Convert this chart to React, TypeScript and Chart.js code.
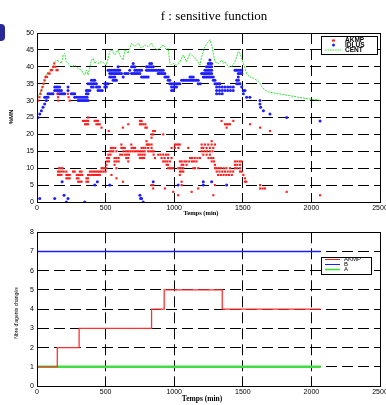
import React, { useEffect, useRef } from "react";
import { Chart, registerables } from "chart.js";
Chart.register(...registerables);

const titleText = "f : sensitive function";
const xAxisLabel = "Temps (min)";
const topYLabel = "%MN";
const bottomYLabel = "Nbre d'agents changés";
const topLegendLabels = ["AKMP", "IDLUS", "CENT"];
const bottomLegendLabels = ["AKMP", "B", "A"];

const xMin = 0, xMax = 2500, xStep = 500;
const topYMin = 0, topYMax = 50, topYStep = 5;
const botYMin = 0, botYMax = 8, botYStep = 1;

const akmpPoints: [number, number][] = [
  [10,30],[18,31],[25,32],[32,33],[40,34],[48,35],[55,36],[62,37],[72,37],[82,38],[92,38],[100,39],[110,39],[118,40],[126,41],[134,40],[142,39],[150,39],
  [150,32],[153,31],[155,30],[225,32],[230,31],[238,30],
  [372,25],
  [335,24],[348,24],[360,24],[372,24],[420,24],[432,24],[445,24],[750,24],[762,24],[1345,24],[1431,24],
  [350,23],[362,23],[372,23],[433,23],[445,23],[457,23],[665,23],[750,23],[762,23],[775,23],[790,23],[1370,23],[1382,23],[1394,23],[1406,23],[1553,23],
  [470,22],[626,22],[790,22],[800,22],[1382,22],[1626,22],
  [523,21],[847,21],[859,21],[1698,21],
  [835,20],[847,20],[920,20],
  [835,19],
  [798,18],[1273,18],
  [615,17],[687,17],[800,17],[810,17],[820,17],[835,17],[1005,17],[1017,17],[1030,17],[1041,17],[1200,17],[1224,17],[1248,17],[1273,17],[1297,17],
  [540,16],[555,16],[570,16],[615,16],[628,16],[640,16],[690,16],[702,16],[715,16],[762,16],[775,16],[790,16],[810,16],[835,16],[981,16],[1005,16],[1030,16],[1102,16],[1200,16],[1212,16],[1236,16],[1260,16],[1285,16],
  [530,15],[543,15],[556,15],[579,15],[630,15],[650,15],[665,15],[680,15],[695,15],[710,15],[725,15],[740,15],[755,15],[770,15],[785,15],[810,15],[825,15],[840,15],[850,15],[1200,15],[1220,15],[1240,15],[1260,15],[1280,15],
  [520,14],[535,14],[606,14],[620,14],[640,14],[655,14],[670,14],[740,14],[755,14],[770,14],[785,14],[850,14],[883,14],[900,14],[920,14],[940,14],[956,14],[1212,14],[1236,14],[1260,14],
  [510,13],[525,13],[565,13],[580,13],[595,13],[650,13],[665,13],[750,13],[765,13],[780,13],[860,13],[908,13],[930,13],[955,13],[981,13],[1115,13],[1130,13],[1150,13],[1170,13],[1188,13],[1250,13],[1270,13],[1285,13],
  [510,12],[525,12],[565,12],[580,12],[595,12],[665,12],[920,12],[935,12],[950,12],[968,12],[1041,12],[1055,12],[1075,12],[1090,12],[1110,12],[1130,12],[1145,12],[1163,12],[1273,12],[1290,12],[1443,12],[1460,12],[1478,12],[1492,12],
  [505,11],[565,11],[945,11],[955,11],[1054,11],[1066,11],[1090,11],[1297,11],[1443,11],[1460,11],[1480,11],
  [160,10],[172,10],[185,10],[470,10],[480,10],[495,10],[506,10],[579,10],[956,10],[968,10],[980,10],[993,10],[1030,10],[1042,10],[1054,10],[1066,10],[1140,10],[1152,10],[1175,10],[1297,10],[1310,10],[1325,10],[1340,10],[1360,10],[1380,10],[1406,10],[1443,10],[1460,10],[1480,10],
  [153,9],[165,9],[180,9],[195,9],[214,9],[263,9],[275,9],[312,9],[325,9],[385,9],[400,9],[415,9],[430,9],[445,9],[458,9],[470,9],[485,9],[500,9],[1042,9],[1054,9],[1066,9],[1310,9],[1330,9],[1350,9],[1370,9],[1390,9],[1410,9],[1430,9],[1480,9],[1492,9],
  [153,8],[165,8],[178,8],[214,8],[226,8],[238,8],[290,8],[302,8],[315,8],[330,8],[372,8],[385,8],[400,8],[415,8],[430,8],[445,8],[458,8],[543,8],[1041,8],[1320,8],[1340,8],[1360,8],[1380,8],[1400,8],[1420,8],[1504,8],
  [214,7],[226,7],[238,7],[290,7],[302,7],[360,7],[372,7],[579,7],[1516,7],
  [300,6],[312,6],[325,6],[360,6],[372,6],[626,6],[1054,6],[1516,6],[1525,6],
  [835,5],[847,5],[1054,5],[1297,5],[1626,5],
  [847,4],[932,4],[1175,4],[1626,4],[1645,4],[1662,4],
  [993,3],[1127,3],[1820,3],
  [1029,2],[1285,2],[2063,2],
];

const idlusPoints: [number, number][] = [
  [20,1],[129,1],[197,2],[214,0],[226,1],[183,6],[348,0],[421,5],[440,6],[530,5],[750,2],[755,1],[762,1],[774,0],[847,6],[1029,5],[1212,5],[1212,6],[1273,6],[1382,5],
  [7,25],[20,26],[32,27],[44,28],[56,29],[68,30],
  [1625,30],[1625,29],[1630,28],[1650,27],[1698,26],[1820,25],[2063,24],[1528,31],[1552,31],
  [300,30],[312,30],[325,30],[337,30],[348,30],[360,30],[372,30],
  [56,31],[68,31],[80,31],[275,31],[290,31],[305,31],[320,31],[335,31],[350,31],[365,31],
  [80,32],[92,32],[105,32],[117,32],[153,32],[165,32],[178,32],[190,32],[202,32],[250,32],[262,32],[275,32],[360,32],[372,32],[1309,32],[1330,32],[1350,32],[1504,32],
  [129,33],[141,33],[153,33],[165,33],[178,33],[226,33],[360,33],[372,33],[385,33],[445,33],[460,33],[475,33],[981,33],[993,33],[1309,33],[1330,33],[1350,33],[1370,33],[1390,33],[1410,33],[1430,33],[1504,33],[1516,33],
  [129,34],[141,34],[153,34],[165,34],[226,34],[397,34],[410,34],[433,34],[445,34],[457,34],[494,34],[506,34],[981,34],[993,34],[1005,34],[1017,34],[1309,34],[1330,34],[1350,34],[1370,34],[1390,34],[1410,34],[1431,34],[1492,34],
  [372,35],[385,35],[397,35],[410,35],[421,35],[433,35],[494,35],[506,35],[518,35],[968,35],[980,35],[993,35],[1005,35],[1017,35],[1029,35],[1041,35],[1175,35],[1190,35],[1297,35],[1310,35],[1322,35],[1333,35],[1455,35],[1468,35],[1480,35],
  [397,36],[410,36],[421,36],[555,36],[567,36],[579,36],[956,36],[968,36],[1054,36],[1066,36],[1078,36],[1090,36],[1102,36],[1115,36],[1127,36],[1139,36],[1151,36],[1163,36],[1175,36],[1285,36],[1297,36],[1455,36],[1468,36],
  [530,37],[542,37],[555,37],[567,37],[628,37],[762,37],[774,37],[786,37],[798,37],[810,37],[932,37],[944,37],[956,37],[1115,37],[1127,37],[1139,37],[1212,37],[1224,37],[1236,37],[1248,37],[1260,37],[1273,37],[1285,37],[1467,37],
  [530,38],[542,38],[555,38],[567,38],[579,38],[591,38],[603,38],[616,38],[640,38],[652,38],[664,38],[689,38],[701,38],[713,38],[725,38],[737,38],[750,38],[883,38],[895,38],[908,38],[920,38],[932,38],[1200,38],[1212,38],[1224,38],[1236,38],[1248,38],[1260,38],[1273,38],[1467,38],[1480,38],[1492,38],
  [518,39],[530,39],[542,39],[555,39],[567,39],[579,39],[591,39],[603,39],[676,39],[713,39],[725,39],[737,39],[750,39],[762,39],[798,39],[810,39],[822,39],[835,39],[847,39],[860,39],[872,39],[884,39],[896,39],[908,39],[920,39],[1224,39],[1236,39],[1248,39],[1260,39],[1273,39],[1443,39],[1455,39],[1467,39],[1480,39],[1492,39],
  [591,40],[689,40],[701,40],[713,40],[798,40],[810,40],[822,40],[835,40],[847,40],[1236,40],[1248,40],[1260,40],[1273,40],
  [701,41],[822,41],[835,41],[1248,41],[1260,41],[1273,41],
  [1260,42],
];

const centPoints: [number, number][] = [
  [3,30.7],[32,33.1],[56,35.6],[68,38],[93,38.6],[117,39.5],[129,41.5],[141,42],[166,41.5],[178,41],[190,43.5],[202,44],[214,41.5],[226,41],[251,40],[275,40.5],[300,39.5],[324,39],[336,38],[348,37.6],[360,39],[372,37.6],[385,40],[397,42],[409,42.5],[421,41],[433,41.5],[445,41],[470,41.5],[494,41],[506,40.5],[530,44.5],[543,45],[567,43.5],[591,45],[603,43.5],[628,42],[640,45],[664,44],[689,47],[713,46],[737,47],[762,45.5],[786,46.5],[810,46],[835,47],[847,46],[871,45],[896,45.5],[920,46.5],[944,45],[956,45.5],[969,41],[981,40.5],[993,41],[1017,40.5],[1042,41.5],[1066,43.5],[1090,41.5],[1115,44],[1139,43],[1163,42],[1188,40.5],[1200,43],[1224,46],[1248,47.4],[1261,48],[1273,46.5],[1285,44],[1297,41.5],[1321,41],[1346,42],[1358,41],[1370,41.5],[1394,40],[1419,40],[1443,41.5],[1455,43],[1467,44.5],[1480,44],[1492,42.5],[1504,41],[1516,39.5],[1528,38],[1553,37],[1577,36.6],[1601,36.1],[1625,35.1],[1638,34.1],[1662,33.1],[1686,32.6],[1735,32.2],[1808,31.7],[1905,31],[1978,30.5],[2051,30.2],[2063,30],
];

const akmpAgents: [number, number][] = [[0,1],[148,2],[307,3],[835,4],[927,5],[1350,4],[2068,4]];
const bAgents: [number, number][] = [[0,7],[2068,7]];
const aAgents: [number, number][] = [[0,1],[2068,1]];

const RED = "#ff1e1e";
const BLUE = "#1e1eff";
const GREEN = "#33e033";
const TICK_FONT = { family: "Liberation Sans", size: 7 };

const toXY = (pts: [number, number][]) => pts.map(([x, y]) => ({ x, y }));

function makeScales(yMin: number, yMax: number, yStep: number, yWidth: number, xHeight: number) {
  const common = {
    grid: { color: "#000", lineWidth: 1, drawTicks: false },
    border: { display: true, color: "#000", width: 1, dash: [11, 5] },
  };
  return {
    x: {
      type: "linear",
      min: xMin, max: xMax,
      ...common,
      ticks: { stepSize: xStep, color: "#000", font: TICK_FONT, padding: 2, maxRotation: 0, callback: (v: any) => String(v) },
      afterFit: (s: any) => { s.height = xHeight; s.paddingLeft = 0; s.paddingRight = 0; },
    },
    y: {
      type: "linear",
      min: yMin, max: yMax,
      ...common,
      ticks: { stepSize: yStep, color: "#000", font: TICK_FONT, padding: 3, callback: (v: any) => String(v) },
      afterFit: (s: any) => { s.width = yWidth; s.paddingTop = 0; s.paddingBottom = 0; },
    },
  };
}

const framePlugin = {
  id: "frame",
  afterDraw(chart: any) {
    const { ctx, chartArea: a } = chart;
    ctx.save();
    ctx.strokeStyle = "#000";
    ctx.lineWidth = 1;
    ctx.setLineDash([]);
    ctx.strokeRect(Math.round(a.left) + 0.5, Math.round(a.top) + 0.5, Math.round(a.right - a.left), Math.round(a.bottom - a.top));
    ctx.restore();
  },
};

function TopChart() {
  const ref = useRef<HTMLCanvasElement>(null);
  useEffect(() => {
    const textPlugin = {
      id: "topText",
      afterDraw(chart: any) {
        const ctx = chart.ctx;
        ctx.save();
        ctx.fillStyle = "#000";
        ctx.font = "13px 'Liberation Serif'";
        ctx.textAlign = "center";
        ctx.textBaseline = "middle";
        ctx.fillText(titleText, 214, 17);
        ctx.font = "bold 6.5px 'Liberation Serif'";
        ctx.fillText(xAxisLabel, 201, 213);
        ctx.save();
        ctx.translate(11, 117);
        ctx.rotate(-Math.PI / 2);
        ctx.font = "bold 6px 'Liberation Sans'";
        ctx.fillText(topYLabel, 0, 0);
        ctx.restore();
        // legend
        ctx.fillStyle = "#fff";
        ctx.fillRect(321.5, 36.5, 56, 18);
        ctx.strokeStyle = "#000";
        ctx.lineWidth = 1;
        ctx.strokeRect(321.5, 36.5, 56, 18);
        ctx.fillStyle = RED;
        ctx.fillRect(332, 39.5, 3, 2);
        ctx.fillStyle = BLUE;
        ctx.beginPath();
        ctx.arc(333.5, 45, 1.5, 0, Math.PI * 2);
        ctx.fill();
        ctx.strokeStyle = GREEN;
        ctx.setLineDash([1.5, 1]);
        ctx.beginPath();
        ctx.moveTo(325, 50);
        ctx.lineTo(341, 50);
        ctx.stroke();
        ctx.setLineDash([]);
        ctx.fillStyle = "#000";
        ctx.font = "bold 6.5px 'Liberation Sans'";
        ctx.textAlign = "left";
        ctx.fillText(topLegendLabels[0], 345, 40.5);
        ctx.fillText(topLegendLabels[1], 345, 45.5);
        ctx.fillText(topLegendLabels[2], 345, 50.5);
        ctx.restore();
      },
    };
    const chart = new Chart(ref.current!, {
      type: "scatter",
      data: {
        datasets: [
          {
            label: "CENT", type: "line", data: toXY(centPoints), borderColor: GREEN, borderWidth: 1,
            borderDash: [2, 1], pointRadius: 0, fill: false, tension: 0, order: 3,
          },
          {
            label: "IDLUS", data: toXY(idlusPoints), backgroundColor: BLUE, borderWidth: 0,
            pointStyle: "circle", pointRadius: 1.5, order: 2,
          },
          {
            label: "AKMP", data: toXY(akmpPoints), backgroundColor: RED, borderWidth: 0,
            pointStyle: "rect", pointRadius: 1.5, order: 1,
          },
        ],
      } as any,
      options: {
        responsive: false,
        animation: false,
        layout: { padding: { top: 33, right: 6, left: 0, bottom: 0 } },
        scales: makeScales(topYMin, topYMax, topYStep, 37, 16) as any,
        plugins: { legend: { display: false }, tooltip: { enabled: false }, title: { display: false } },
      },
      plugins: [framePlugin, textPlugin],
    });
    return () => chart.destroy();
  }, []);
  return <canvas ref={ref} width={386} height={218} style={{ position: "absolute", left: 0, top: 0, width: 386, height: 218 }} />;
}

function BottomChart() {
  const ref = useRef<HTMLCanvasElement>(null);
  useEffect(() => {
    const textPlugin = {
      id: "botText",
      afterDraw(chart: any) {
        const ctx = chart.ctx;
        ctx.save();
        ctx.fillStyle = "#000";
        ctx.textAlign = "center";
        ctx.textBaseline = "middle";
        ctx.font = "bold 7.5px 'Liberation Serif'";
        ctx.fillText(xAxisLabel, 202, 181);
        ctx.save();
        ctx.translate(17, 95);
        ctx.rotate(-Math.PI / 2);
        ctx.font = "5px 'Liberation Sans'";
        ctx.fillText(bottomYLabel, 0, 0);
        ctx.restore();
        // legend
        const top = 39.5;
        ctx.fillStyle = "#fff";
        ctx.fillRect(321.5, top, 50, 17);
        ctx.strokeStyle = "#000";
        ctx.lineWidth = 1;
        ctx.strokeRect(321.5, top, 50, 17);
        const cols = [RED, BLUE, GREEN];
        const rows = [41.5, 46.5, 51.5];
        ctx.font = "6px 'Liberation Sans'";
        ctx.textAlign = "left";
        for (let i = 0; i < 3; i++) {
          ctx.strokeStyle = cols[i];
          ctx.lineWidth = i === 2 ? 1.5 : 1;
          ctx.beginPath();
          ctx.moveTo(325, rows[i]);
          ctx.lineTo(340, rows[i]);
          ctx.stroke();
          ctx.fillStyle = "#000";
          ctx.fillText(bottomLegendLabels[i], 344, rows[i]);
        }
        ctx.restore();
      },
    };
    const chart = new Chart(ref.current!, {
      type: "line",
      data: {
        datasets: [
          { label: "A", data: toXY(aAgents), borderColor: "#44dd44", borderWidth: 2.5, pointRadius: 0, order: 3 },
          { label: "B", data: toXY(bAgents), borderColor: BLUE, borderWidth: 1.3, pointRadius: 0, order: 2 },
          { label: "AKMP", data: toXY(akmpAgents), borderColor: "#ff3030", borderWidth: 1.3, pointRadius: 0, stepped: "before", order: 1 },
        ],
      } as any,
      options: {
        responsive: false,
        animation: false,
        layout: { padding: { top: 14.3, right: 6, left: 0, bottom: 0 } },
        scales: makeScales(botYMin, botYMax, botYStep, 37, 19) as any,
        plugins: { legend: { display: false }, tooltip: { enabled: false }, title: { display: false } },
      },
      plugins: [framePlugin, textPlugin],
    });
    return () => chart.destroy();
  }, []);
  return <canvas ref={ref} width={386} height={187} style={{ position: "absolute", left: 0, top: 218, width: 386, height: 187 }} />;
}

export default function App() {
  return (
    <div style={{ position: "absolute", left: 0, top: 0, width: 386, height: 405, background: "#fff", overflow: "hidden" }}>
      <div style={{ position: "absolute", left: 0, top: 24, width: 5, height: 17, background: "#2a2a96", borderRadius: "0 4px 4px 0" }} />
      <TopChart />
      <BottomChart />
    </div>
  );
}
